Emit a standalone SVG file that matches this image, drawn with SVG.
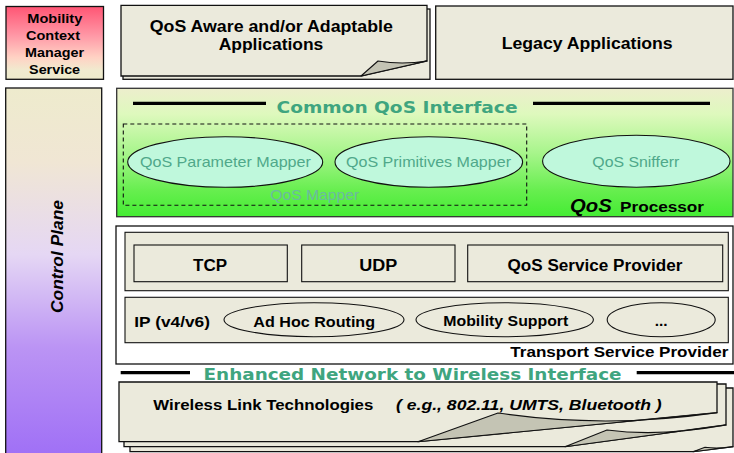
<svg xmlns="http://www.w3.org/2000/svg" width="734" height="453" viewBox="0 0 734 453">
  <defs>
    <linearGradient id="gMobility" x1="0" y1="0" x2="0" y2="1">
      <stop offset="0" stop-color="#ff5574"/>
      <stop offset="0.4" stop-color="#ff98a6"/>
      <stop offset="0.7" stop-color="#ffd2c4"/>
      <stop offset="0.88" stop-color="#f0ebcf"/>
      <stop offset="1" stop-color="#eeebcc"/>
    </linearGradient>
    <linearGradient id="gControl" x1="0" y1="0" x2="0" y2="1">
      <stop offset="0" stop-color="#eeebcd"/>
      <stop offset="0.2" stop-color="#f0e6d4"/>
      <stop offset="0.45" stop-color="#e5d7f4"/>
      <stop offset="0.7" stop-color="#bb94f4"/>
      <stop offset="1" stop-color="#9f6ff6"/>
    </linearGradient>
    <linearGradient id="gProcessor" x1="0" y1="0" x2="0" y2="1">
      <stop offset="0" stop-color="#edeecd"/>
      <stop offset="0.2" stop-color="#def9bd"/>
      <stop offset="0.5" stop-color="#a8f58c"/>
      <stop offset="0.8" stop-color="#66ee4e"/>
      <stop offset="1" stop-color="#44ec33"/>
    </linearGradient>
  </defs>
  <style>
    .box { fill: #ebeadc; stroke: #111; stroke-width: 1.3; }
    .fold { fill: #c4c4b4; stroke: #111; stroke-width: 1.1; stroke-linejoin: round; }
    .ell { fill: #bff8dc; stroke: #111; stroke-width: 1.1; }
    .plain { fill: #ebeadc; stroke: #111; stroke-width: 1.1; }
    .bar { stroke: #000; stroke-width: 3.2; }
    .lbl { font-family: "Liberation Sans", Arial, sans-serif; font-weight: bold; fill: #000; }
    .green { font-family: "DejaVu Sans", Verdana, sans-serif; font-weight: bold; fill: #3fa57f; font-size: 16.5px; }
    .mint { font-family: "Liberation Sans", Arial, sans-serif; fill: #4fa88a; font-size: 15px; }
  </style>

  <!-- Mobility context manager -->
  <g id="mobility">
    <rect x="6" y="6.5" width="97.5" height="72.8" fill="url(#gMobility)" stroke="#111" stroke-width="1.3"/>
    <g class="lbl" font-size="13.5" text-anchor="middle">
      <text x="54.8" y="22.7" textLength="55" lengthAdjust="spacingAndGlyphs">Mobility</text>
      <text x="53" y="39.7" textLength="54" lengthAdjust="spacingAndGlyphs">Context</text>
      <text x="54.6" y="56.5" textLength="59" lengthAdjust="spacingAndGlyphs">Manager</text>
      <text x="54.6" y="73.5" textLength="51" lengthAdjust="spacingAndGlyphs">Service</text>
    </g>
  </g>

  <!-- QoS aware applications (curled page) -->
  <g id="qos-aware-apps">
    <rect x="123" y="9" width="307" height="70.3" class="box"/>
    <path d="M121,5.3 H427 V61 L361,76 H121 Z" class="box"/>
    <path d="M361,76 L378,61 Q402,65 427,61 Z" class="fold"/>
    <g class="lbl" font-size="16" text-anchor="middle">
      <text x="271.3" y="31.7" textLength="243" lengthAdjust="spacingAndGlyphs">QoS Aware and/or Adaptable</text>
      <text x="271" y="50" textLength="104.6" lengthAdjust="spacingAndGlyphs">Applications</text>
    </g>
  </g>

  <!-- Legacy applications -->
  <g id="legacy-apps">
    <rect x="435.7" y="6" width="297.3" height="73.3" class="box"/>
    <text class="lbl" x="587.2" y="49.3" font-size="16" text-anchor="middle" textLength="171" lengthAdjust="spacingAndGlyphs">Legacy Applications</text>
  </g>

  <!-- Control plane -->
  <g id="control-plane">
    <rect x="5.7" y="88" width="96" height="370" fill="url(#gControl)" stroke="#111" stroke-width="1.3"/>
    <text class="lbl" font-style="italic" font-size="16.5" text-anchor="middle" transform="translate(62.5,256.5) rotate(-90)" textLength="113" lengthAdjust="spacingAndGlyphs">Control Plane</text>
  </g>

  <!-- QoS processor -->
  <g id="qos-processor">
    <rect x="116.7" y="88.3" width="616.3" height="128.4" fill="url(#gProcessor)" stroke="#333" stroke-width="1.3"/>
    <line x1="133" y1="103.3" x2="266" y2="103.3" class="bar"/>
    <line x1="533" y1="103.3" x2="710" y2="103.3" class="bar"/>
    <text class="green" x="397" y="112.5" text-anchor="middle" textLength="241" lengthAdjust="spacingAndGlyphs">Common QoS Interface</text>
    <text class="lbl" x="570" y="211.7"><tspan font-style="italic" font-size="18.7" textLength="41.7" lengthAdjust="spacingAndGlyphs">QoS</tspan><tspan x="620" font-size="14" textLength="84" lengthAdjust="spacingAndGlyphs">Processor</tspan></text>
  </g>

  <g id="qos-mapper">
    <rect x="123.3" y="124" width="403.4" height="81.3" fill="none" stroke="#111" stroke-width="1.1" stroke-dasharray="4 3"/>
    <text class="mint" x="314.7" y="200" text-anchor="middle" fill="#6cb9a0" textLength="89" lengthAdjust="spacingAndGlyphs" style="fill:#6cb9a0">QoS Mapper</text>
  </g>

  <g id="qos-parameter-mapper">
    <ellipse cx="225.2" cy="162" rx="97.5" ry="25.3" class="ell"/>
    <text class="mint" x="225.4" y="167" text-anchor="middle" textLength="171" lengthAdjust="spacingAndGlyphs">QoS Parameter Mapper</text>
  </g>

  <g id="qos-primitives-mapper">
    <ellipse cx="428.8" cy="162" rx="93.8" ry="25.3" class="ell"/>
    <text class="mint" x="428.5" y="167" text-anchor="middle" textLength="165" lengthAdjust="spacingAndGlyphs">QoS Primitives Mapper</text>
  </g>

  <g id="qos-sniffer">
    <ellipse cx="636.3" cy="161.2" rx="93.7" ry="26" class="ell"/>
    <text class="mint" x="635.8" y="166.5" text-anchor="middle" textLength="87" lengthAdjust="spacingAndGlyphs">QoS Snifferr</text>
  </g>

  <!-- Transport service provider -->
  <g id="transport-service-provider">
    <rect x="116" y="226" width="617" height="138" fill="#fff" stroke="#111" stroke-width="1.3"/>
    <rect x="125" y="232.3" width="603.3" height="58.4" class="plain"/>
    <rect x="125" y="297.3" width="603.3" height="45.4" class="plain"/>
    <text class="lbl" x="728.3" y="357" font-size="15" text-anchor="end" textLength="218" lengthAdjust="spacingAndGlyphs">Transport Service Provider</text>
    <text class="lbl" x="134.3" y="327.3" font-size="15.5" textLength="75.7" lengthAdjust="spacingAndGlyphs">IP (v4/v6)</text>
  </g>

  <g id="tcp">
    <rect x="134" y="245" width="153.3" height="36.7" class="plain"/>
    <text class="lbl" x="210" y="270.5" font-size="16" text-anchor="middle" textLength="34" lengthAdjust="spacingAndGlyphs">TCP</text>
  </g>

  <g id="udp">
    <rect x="301.7" y="245" width="153.3" height="36.7" class="plain"/>
    <text class="lbl" x="378.3" y="270.5" font-size="16" text-anchor="middle" textLength="38" lengthAdjust="spacingAndGlyphs">UDP</text>
  </g>

  <g id="qos-service-provider">
    <rect x="467.7" y="245" width="255" height="36.7" class="plain"/>
    <text class="lbl" x="595" y="270.5" font-size="16" text-anchor="middle" textLength="175" lengthAdjust="spacingAndGlyphs">QoS Service Provider</text>
  </g>

  <g id="ad-hoc-routing">
    <ellipse cx="314" cy="319.7" rx="90" ry="17" class="plain"/>
    <text class="lbl" x="314.2" y="326.5" font-size="15.5" text-anchor="middle" textLength="121.7" lengthAdjust="spacingAndGlyphs">Ad Hoc Routing</text>
  </g>

  <g id="mobility-support">
    <ellipse cx="504.7" cy="319.7" rx="88.7" ry="17" class="plain"/>
    <text class="lbl" x="505.8" y="326" font-size="15.5" text-anchor="middle" textLength="125" lengthAdjust="spacingAndGlyphs">Mobility Support</text>
  </g>

  <g id="more-modules">
    <ellipse cx="661.2" cy="319.7" rx="54" ry="17" class="plain"/>
    <text class="lbl" x="661.2" y="326" font-size="15.5" text-anchor="middle">...</text>
  </g>

  <!-- Enhanced network to wireless interface -->
  <g id="wireless-interface">
    <line x1="120.7" y1="372.7" x2="190" y2="372.7" class="bar"/>
    <line x1="636.7" y1="372.7" x2="734" y2="372.7" class="bar"/>
    <text class="green" x="412.5" y="379.5" text-anchor="middle" textLength="418" lengthAdjust="spacingAndGlyphs">Enhanced Network to Wireless Interface</text>
  </g>

  <!-- Wireless link technologies (stacked curled pages) -->
  <g id="wireless-link-technologies">
    <path d="M130,388 H733 V446.7 L693,451.7 H130 Z" class="box"/>
    <path d="M693,451.7 L705,447.3 Q718,449 733,446.7 Z" class="fold"/>
    <path d="M124,384 H726 V425 L565,446.7 H124 Z" class="box"/>
    <path d="M565,446.7 L607,430 Q660,437 726,425 Z" class="fold"/>
    <path d="M119,382 H717 V412.7 L418,441.7 H119 Z" class="box"/>
    <path d="M418,441.7 L498,413 Q606,429 717,412.7 Z" class="fold"/>
    <text class="lbl" x="153.3" y="410" font-size="15">
      <tspan textLength="220" lengthAdjust="spacingAndGlyphs">Wireless Link Technologies</tspan>
      <tspan x="396" font-style="italic" textLength="265.7" lengthAdjust="spacingAndGlyphs">( e.g., 802.11, UMTS, Bluetooth )</tspan>
    </text>
  </g>
</svg>
